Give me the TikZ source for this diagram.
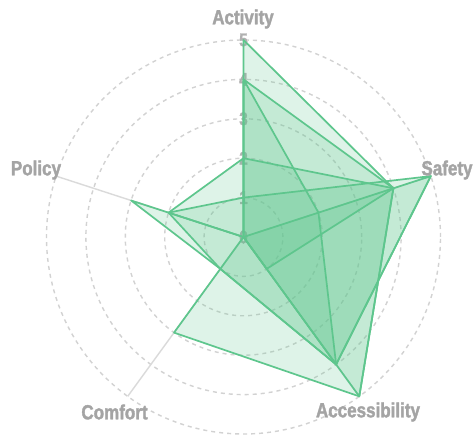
\documentclass[tikz,border=0pt]{standalone}
\usepackage{fontspec}
\setmainfont{Liberation Sans}
\newfontfamily\labfont{Liberation Sans Bold}[FakeStretch=0.83,FakeBold=1.6]
\definecolor{gridgray}{RGB}{210,210,210}
\definecolor{spokegray}{RGB}{218,218,218}
\definecolor{tickgray}{RGB}{176,176,176}
\definecolor{labelgray}{RGB}{164,164,164}
\definecolor{sgreen}{RGB}{94,198,141}
\begin{document}
\begin{tikzpicture}[x=1pt,y=1pt,
  ring/.style={draw=gridgray, dash pattern=on 4pt off 4pt, line width=1.4pt},
  spoke/.style={draw=spokegray, line width=1.4pt},
  tick/.style={text=tickgray, font=\labfont\fontsize{18.5}{18.5}\selectfont, inner sep=0pt},
  axlabel/.style={text=labelgray, font=\labfont\fontsize{20.5}{20.5}\selectfont, inner sep=0pt},
  series/.style={draw=sgreen, fill=sgreen, fill opacity=0.2, draw opacity=1, line width=1.7pt, line join=round}]
\def\u{39.4}
\useasboundingbox (-243.5,-198) rectangle (230.5,237);
\fill[white] (-243.5,-198) rectangle (230.5,237);
\coordinate (O) at (0,0);
% rings
\foreach \r in {1,...,5} \draw[ring] (O) circle (\r*\u);
% spokes
\coordinate (act) at (90:5*\u);
\coordinate (saf) at (18:5*\u);
\coordinate (acc) at (-54:5*\u);
\coordinate (com) at (-126:5*\u);
\coordinate (pol) at (162:5*\u);
\foreach \n in {act,saf,acc,com,pol} \draw[spoke] (O) -- (\n);
% tick labels
\foreach \v in {0,...,5} \node[tick] (t\v) at (90:\v*\u) {\v};
% series (Activity, Safety, Accessibility, Comfort, Policy)
\foreach \A/\S/\Ac/\C/\P in {5/4/5/3/0, 1/5/4/1/2, 4/2/4/0/0, 4/4/5/0/0, 2/4/1/0/2, 0/5/4/1/3}
  \draw[series] (90:\A*\u) -- (18:\S*\u) -- (-54:\Ac*\u) -- (-126:\C*\u) -- (162:\P*\u) -- cycle;
% axis labels
\node[axlabel] (lact) at (-0.5,218) {Activity};
\node[axlabel] (lsaf) at (203.5,67) {Safety};
\node[axlabel] (lpol) at (-207.5,67) {Policy};
\node[axlabel] (lcom) at (-129,-175) {Comfort};
\node[axlabel] (lacc) at (124.5,-175) {Accessibility};
\end{tikzpicture}
\end{document}
